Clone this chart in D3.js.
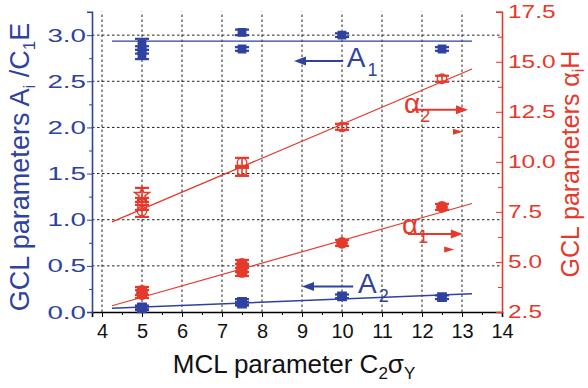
<!DOCTYPE html>
<html>
<head>
<meta charset="utf-8">
<script src="https://cdn.jsdelivr.net/npm/d3@7"></script>
<style>
  body { margin: 0; background: #fff; }
  svg { display: block; font-family: "Liberation Sans", Arial, sans-serif; }
</style>
</head>
<body>
<div id="chart"></div>
<script>
// ---- data ----
const xTicks = [4, 5, 6, 7, 8, 9, 10, 11, 12, 13, 14];
const leftTicks = [0.0, 0.5, 1.0, 1.5, 2.0, 2.5, 3.0];
const rightTicks = [2.5, 5.0, 7.5, 10.0, 12.5, 15.0, 17.5];

// A1 (left axis)
const a1X = [5, 5, 5, 7.5, 7.5, 10, 12.5];
const a1Y = [2.90, 2.84, 2.79, 3.03, 2.85, 3.00, 2.85];
const a1E = [0.06, 0.04, 0.05, 0.03, 0.02, 0.02, 0.02];
// A2 (left axis)
const a2X = [5, 5, 7.5, 7.5, 10, 12.5];
const a2Y = [0.04, 0.05, 0.11, 0.09, 0.17, 0.16];
const a2E = [0.02, 0.02, 0.03, 0.02, 0.02, 0.02];
// alpha1 (right axis)
const al1X = [5, 5, 7.5, 7.5, 7.5, 10, 12.5];
const al1Y = [3.40, 3.55, 4.90, 4.70, 4.50, 5.95, 7.75];
const al1E = [0.20, 0.20, 0.20, 0.20, 0.20, 0.15, 0.15];
// alpha2 (right axis)
const al2X = [5, 5, 5, 7.5, 7.5, 10, 12.5];
const al2Y = [8.35, 7.90, 7.55, 9.95, 9.55, 11.75, 14.15];
const al2E = [0.35, 0.30, 0.30, 0.25, 0.25, 0.15, 0.15];
const al2Sym = ["star", "square", "circle", "circle", "square", "circle", "circle"];

// linear fits
const fitX = [4.25, 13.25];
const a1Fit = [2.935, 2.935];
const a2Fit = [0.04, 0.198];
const al1Fit = [2.81, 7.92];
const al2Fit = [7.0, 14.64];

const blue = "#2f42a0";
const red = "#e5392c";

const W = 588, H = 388;
const svg = d3.select("#chart").append("svg").attr("width", W).attr("height", H);

const x = d3.scaleLinear().domain([3.75, 14]).range([92, 502]);
const yL = d3.scaleLinear().domain([0, 3.254]).range([312, 11.7]);
const yR = d3.scaleLinear().domain([2.5, 17.5]).range([312, 11.7]);

// ---- grid ----
const grid = svg.append("g").attr("stroke", "#222").attr("stroke-width", 1)
  .attr("stroke-dasharray", "2.5,2.5");
grid.selectAll(".vg").data(xTicks.filter(d => d < 14)).enter().append("line")
  .attr("x1", d => x(d)).attr("x2", d => x(d))
  .attr("y1", yL.range()[0]).attr("y2", yL.range()[1]);
grid.selectAll(".hg").data(leftTicks.filter(d => d > 0)).enter().append("line")
  .attr("x1", x.range()[0]).attr("x2", x.range()[1])
  .attr("y1", d => yL(d)).attr("y2", d => yL(d));

// ---- axes ----
const xAxis = svg.append("g").attr("transform", `translate(0,${yL(0)})`)
  .call(d3.axisBottom(x).tickValues(xTicks).tickSize(5).tickFormat(d3.format("d")));
svg.append("g").attr("transform", `translate(0,${yL(0)})`)
  .call(d3.axisBottom(x).tickValues(d3.range(4.5, 14, 1)).tickSize(3).tickFormat(""))
  .call(g => g.select(".domain").remove());
xAxis.select(".domain").attr("stroke-width", 1.6);
xAxis.selectAll("text").attr("font-size", 20).attr("fill", "#111").attr("y", 12)
  .attr("font-family", "Liberation Sans, Arial, sans-serif");

const lAxis = svg.append("g").attr("transform", `translate(${x(3.75)},0)`)
  .call(d3.axisLeft(yL).tickValues(leftTicks).tickSize(5).tickFormat(""));
svg.append("g").attr("transform", `translate(${x(3.75)},0)`)
  .call(d3.axisLeft(yL).tickValues(d3.range(0.25, 3.3, 0.5)).tickSize(3).tickFormat(""))
  .call(g => g.select(".domain").remove())
  .selectAll("line").attr("stroke", blue);
lAxis.select(".domain").attr("stroke", blue).attr("stroke-width", 1.6);
lAxis.selectAll("line").attr("stroke", blue);
svg.append("g").selectAll("text").data(leftTicks).enter().append("text")
  .attr("transform", d => `translate(86,${yL(d) + 6.5}) scale(1.5,1)`)
  .attr("text-anchor", "end").attr("font-size", 18.5).attr("fill", blue)
  .text(d => d.toFixed(1));

const rAxis = svg.append("g").attr("transform", `translate(${x(14)},0)`)
  .call(d3.axisLeft(yR).tickValues(rightTicks).tickSize(6).tickFormat(""));
svg.append("g").attr("transform", `translate(${x(14)},0)`)
  .call(d3.axisLeft(yR).tickValues(d3.range(3.75, 17.5, 2.5)).tickSize(4).tickFormat(""))
  .call(g => g.select(".domain").remove())
  .selectAll("line").attr("stroke", red);
rAxis.select(".domain").attr("stroke", red).attr("stroke-width", 1.6);
rAxis.selectAll("line").attr("stroke", red);
svg.append("g").selectAll("text").data(rightTicks).enter().append("text")
  .attr("transform", d => `translate(508,${yR(d) + 6.2}) scale(1.4,1)`)
  .attr("text-anchor", "start").attr("font-size", 17.5).attr("fill", red)
  .text(d => d.toFixed(1));

// ---- fit lines ----
function fitLine(ys, yScale, color, w) {
  svg.append("path")
    .datum(fitX.map((d, i) => [d, ys[i]]))
    .attr("fill", "none").attr("stroke", color).attr("stroke-width", w)
    .attr("d", d3.line().x(d => x(d[0])).y(d => yScale(d[1])));
}
fitLine(a1Fit, yL, blue, 1.4);
fitLine(a2Fit, yL, blue, 1.4);
fitLine(al1Fit, yR, red, 1.2);
fitLine(al2Fit, yR, red, 1.2);

// ---- points with error bars ----
function series(xs, ys, es, yScale, color, syms, filled, size) {
  const g = svg.append("g");
  const pts = xs.map((d, i) => ({ x: d, y: ys[i], e: es[i], s: syms ? syms[i] : "square" }));
  const cap = 7;
  pts.forEach(p => {
    const cx = x(p.x), y1 = yScale(p.y - p.e), y2 = yScale(p.y + p.e);
    g.append("line").attr("x1", cx).attr("x2", cx).attr("y1", y1).attr("y2", y2)
      .attr("stroke", color).attr("stroke-width", 1.6);
    [y1, y2].forEach(yy => g.append("line")
      .attr("x1", cx - cap).attr("x2", cx + cap).attr("y1", yy).attr("y2", yy)
      .attr("stroke", color).attr("stroke-width", 2.2));
    const type = p.s === "star" ? d3.symbolStar : p.s === "circle" ? d3.symbolCircle : d3.symbolSquare;
    g.append("path")
      .attr("transform", `translate(${cx},${yScale(p.y)})`)
      .attr("d", d3.symbol().type(type).size(size)())
      .attr("fill", filled ? color : "#fff").attr("fill-opacity", filled ? 1 : 0)
      .attr("stroke", color).attr("stroke-width", 1.4);
  });
}
series(a1X, a1Y, a1E, yL, blue, null, true, 55);
series(a2X, a2Y, a2E, yL, blue, null, true, 70);
series(al1X, al1Y, al1E, yR, red, al1X.map(() => "circle"), true, 85);
series(al2X, al2Y, al2E, yR, red, al2Sym, false, 70);

// ---- annotations ----
function arrow(x1, x2, yy, color) {
  const dir = Math.sign(x2 - x1);
  svg.append("line").attr("x1", x1).attr("x2", x2 - dir * 8).attr("y1", yy).attr("y2", yy)
    .attr("stroke", color).attr("stroke-width", 2);
  svg.append("path")
    .attr("d", `M${x2},${yy} L${x2 - dir * 12},${yy - 4.5} L${x2 - dir * 12},${yy + 4.5} Z`)
    .attr("fill", color);
}
function label(x0, y0, main, sub, color, greek) {
  const t = svg.append("text").attr("x", x0).attr("y", y0).attr("fill", color)
    .attr("font-size", greek ? 28 : 28).text(main);
  t.append("tspan").attr("font-size", 18).attr("dy", 9).attr("dx", greek ? 0 : 2).text(sub);
}
function triangle(xc, yc, color) {
  svg.append("path")
    .attr("d", `M${xc + 5},${yc} L${xc - 5},${yc - 3} L${xc - 5},${yc + 3} Z`)
    .attr("fill", color);
}

// A1
arrow(x(10.03), x(8.8), yL(2.72), blue);
label(x(10.12), yL(2.66), "A", "1", blue, false);
// A2
arrow(x(10.28), x(9.0), yL(0.275), blue);
label(x(10.4), yL(0.205), "A", "2", blue, false);
// alpha2
label(x(11.55), yR(12.45), "α", "2", red, true);
arrow(x(11.75), x(13.15), yR(12.6), red);
triangle(x(12.9), yR(11.5), red);
// alpha1
label(x(11.5), yR(6.4), "α", "1", red, true);
arrow(x(11.65), x(13.02), yR(6.4), red);
triangle(x(12.68), yR(5.62), red);

// ---- axis titles ----
svg.append("text").attr("x", 294).attr("y", 373).attr("text-anchor", "middle")
  .attr("font-size", 26).attr("fill", "#111")
  .html('MCL parameter C<tspan font-size="17" dy="6">2</tspan><tspan dy="-6">σ</tspan><tspan font-size="17" dy="6">Y</tspan>');

svg.append("text").attr("transform", "translate(29,167) rotate(-90)")
  .attr("text-anchor", "middle").attr("font-size", 27).attr("fill", blue)
  .html('GCL parameters A<tspan font-size="17" dy="6">i</tspan><tspan dy="-6"> /C</tspan><tspan font-size="17" dy="6">1</tspan><tspan dy="-6">E</tspan>');

svg.append("text").attr("transform", "translate(579,164) rotate(-90)")
  .attr("text-anchor", "middle").attr("font-size", 25).attr("fill", red)
  .html('GCL parameters α<tspan font-size="16" dy="5">i</tspan><tspan dy="-5">H</tspan>');
</script>
</body>
</html>
